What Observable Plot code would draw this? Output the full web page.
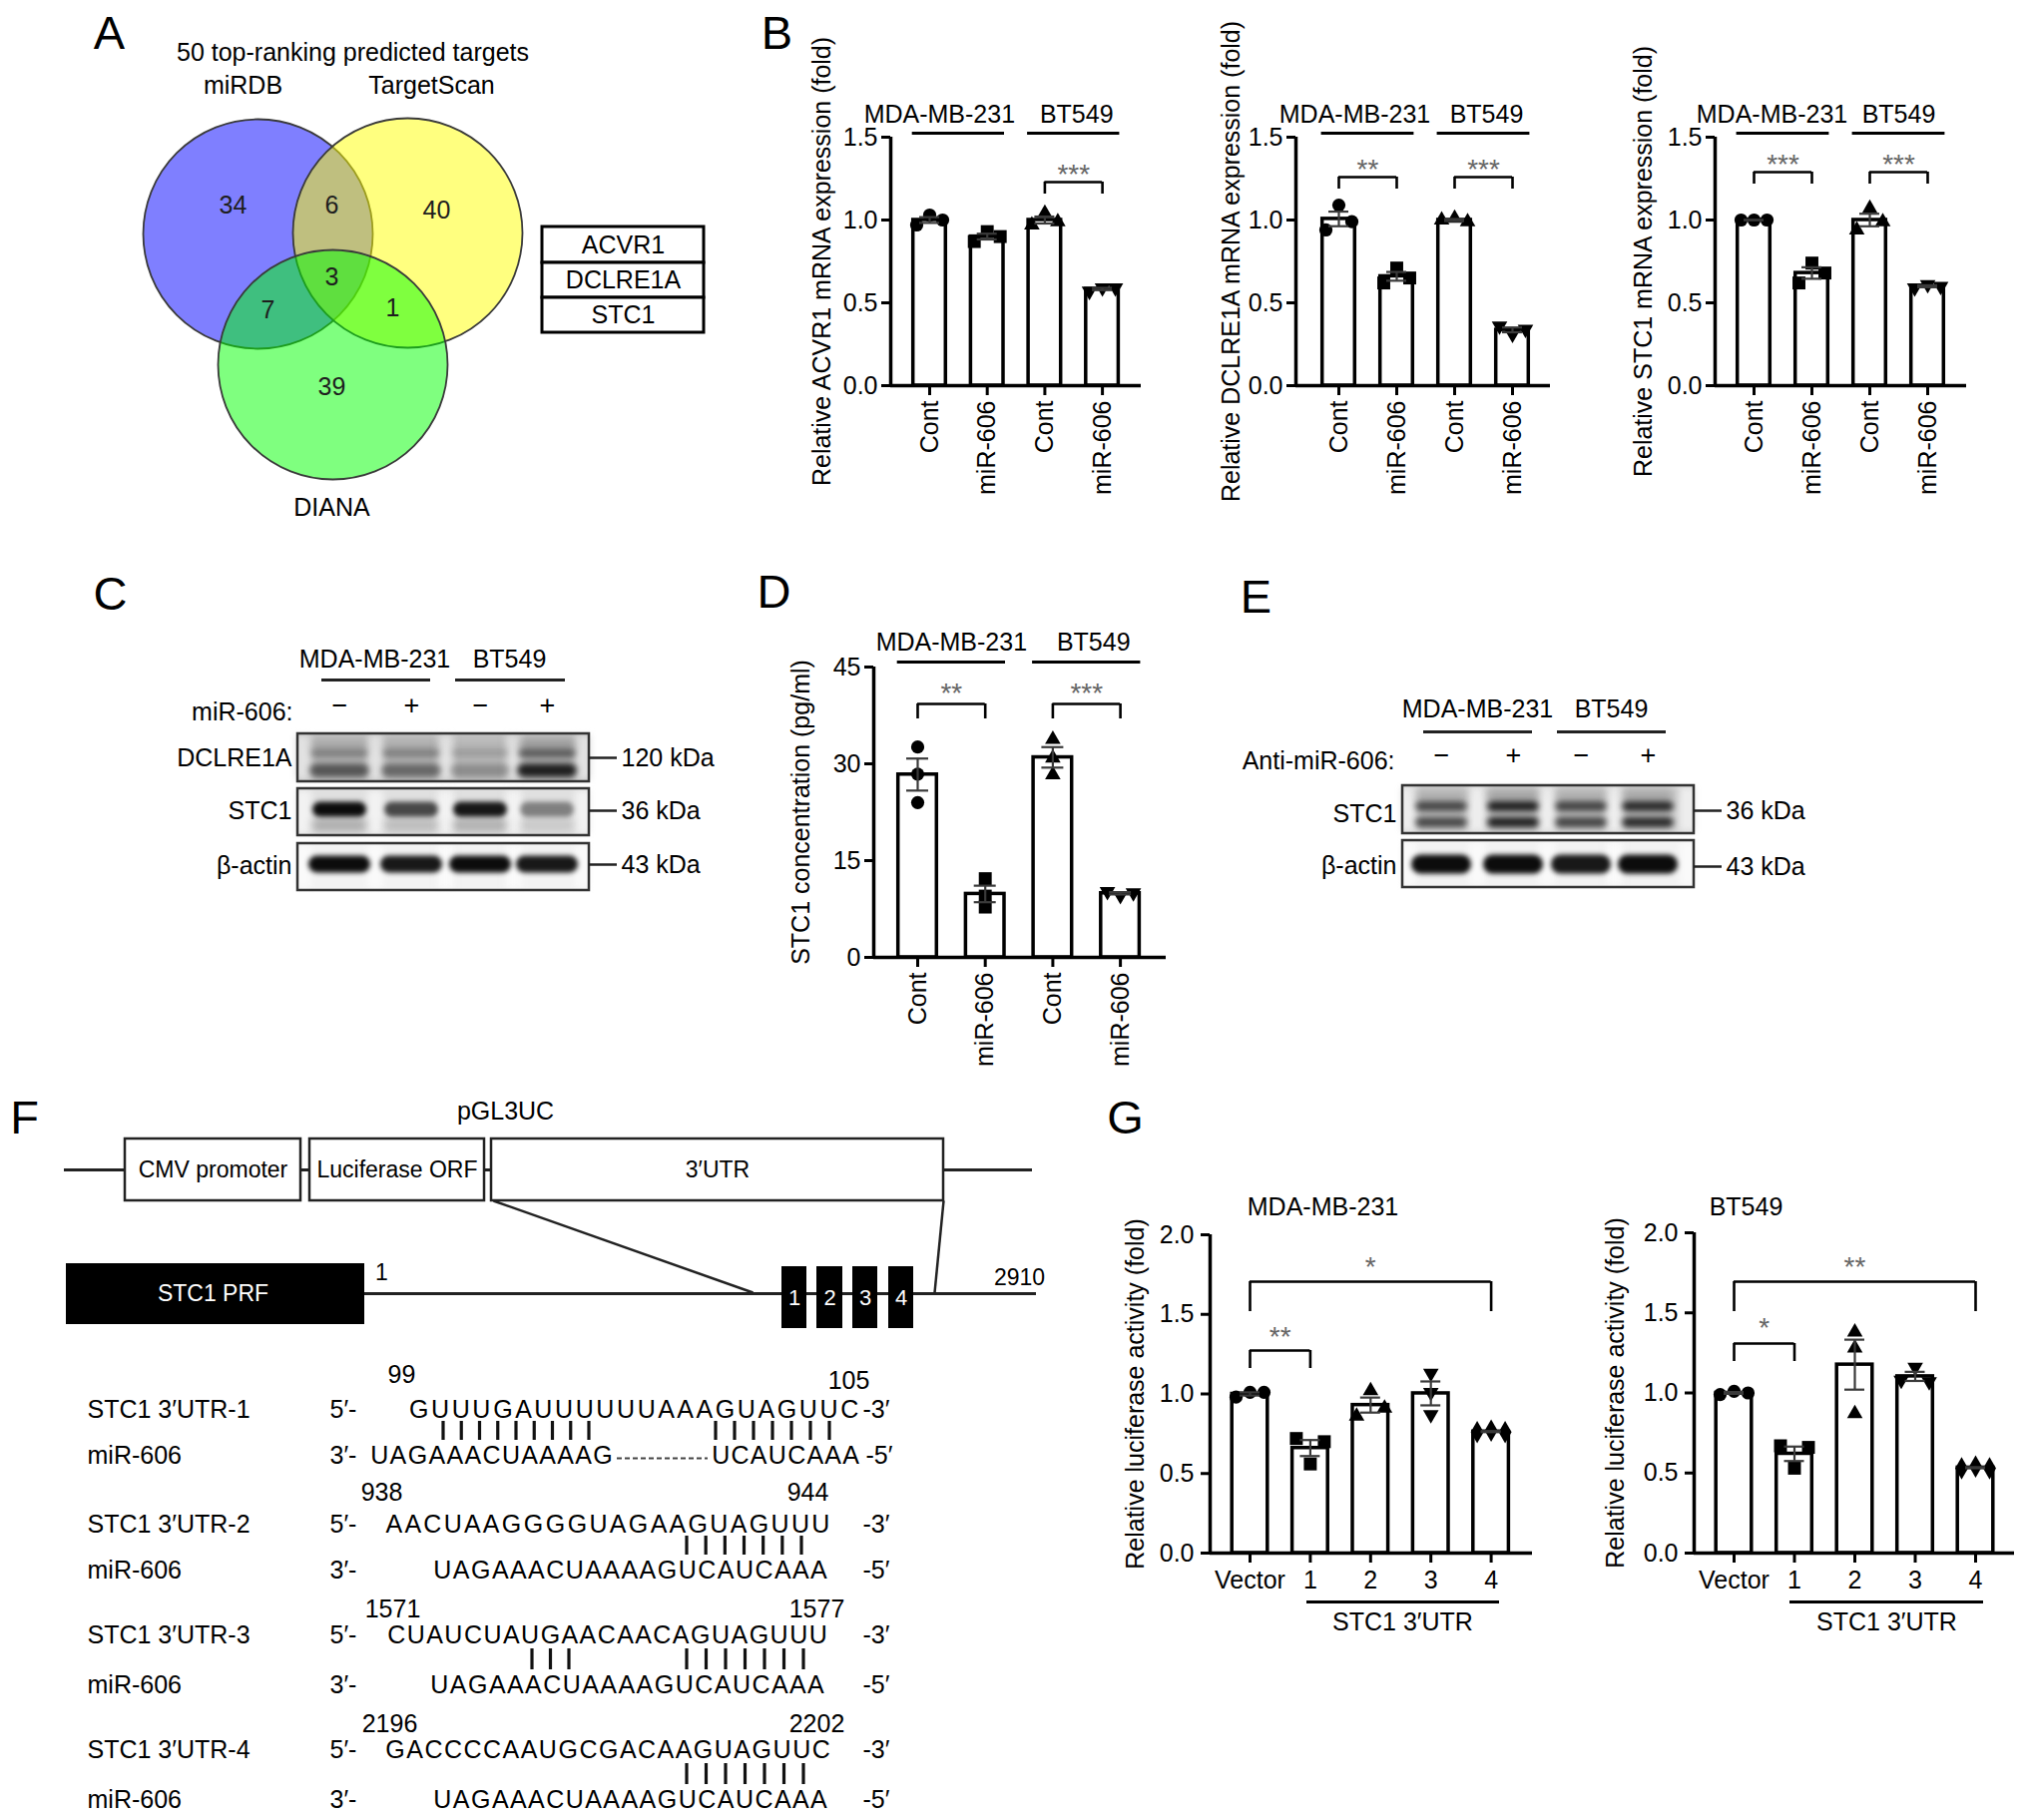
<!DOCTYPE html>
<html><head><meta charset="utf-8">
<script src="https://cdn.jsdelivr.net/npm/d3@7"></script>
<script src="https://cdn.jsdelivr.net/npm/@observablehq/plot@0.6"></script>
<style>
html,body{margin:0;padding:0;background:#fff;overflow:hidden}
#fig{position:relative;width:2032px;height:1824px;background:#fff;color:#000;font-family:"Liberation Sans",Arial,Helvetica,sans-serif}
#fig svg{position:absolute;left:0;top:0}
</style></head><body><div id="fig"></div>
<script>
// ======================= DATA =======================
// Panel A – Venn
const vennSets = ["miRDB", "TargetScan", "DIANA"];
const vennColors = ["#0000ff", "#ffff00", "#00ff00"];
const vennTitle = "50 top-ranking predicted targets";
// regions: miRDB only, miRDB∩TS, TS only, all three, miRDB∩DIANA, TS∩DIANA, DIANA only
const vennCounts = [34, 6, 40, 3, 7, 1, 39];
const commonTargets = ["ACVR1", "DCLRE1A", "STC1"];

// Panel B – qPCR (replicates per group)
const cellLines = ["MDA-MB-231", "BT549"];
const bCats = ["Cont", "miR-606", "Cont", "miR-606"];
const bShapes = ["circle", "square", "triangle", "invtri"];
const acvr1 = [[0.97, 1.03, 1.00], [0.87, 0.93, 0.90], [0.97, 1.04, 0.99], [0.57, 0.59, 0.59]];
const dclre1a = [[0.94, 1.09, 0.99], [0.62, 0.71, 0.65], [1.00, 1.01, 0.99], [0.36, 0.31, 0.34]];
const stc1 = [[1.00, 1.00, 1.00], [0.62, 0.74, 0.68], [0.94, 1.07, 0.99], [0.59, 0.61, 0.60]];
const bTitles = ["Relative ACVR1 mRNA expression (fold)", "Relative DCLRE1A mRNA expression (fold)", "Relative STC1 mRNA expression (fold)"];
const bSig = [[[2, 3, "***"]], [[0, 1, "**"], [2, 3, "***"]], [[0, 1, "***"], [2, 3, "***"]]];

// Panel C – western blot (band intensity 0..1 per lane)
const lanesSign = ["−", "+", "−", "+"];
const blotC = {
  label: "miR-606:",
  rows: ["DCLRE1A", "STC1", "β-actin"],
  sizes: ["120 kDa", "36 kDa", "43 kDa"],
  dclreUpper: [0.35, 0.35, 0.20, 0.55],
  dclreLower: [0.60, 0.50, 0.30, 0.90],
  stc1: [1.00, 0.72, 0.95, 0.45],
  actin: [1.00, 0.95, 1.00, 0.95]
};

// Panel D – ELISA
const dValues = [[32.6, 28.4, 24.0], [12.2, 9.5, 7.8], [33.8, 30.9, 28.3], [10.2, 9.6, 10.0]];
const dTitle = "STC1 concentration (pg/ml)";
const dSig = [[0, 1, "**"], [2, 3, "***"]];

// Panel E – western blot
const blotE = {
  label: "Anti-miR-606:",
  rows: ["STC1", "β-actin"],
  sizes: ["36 kDa", "43 kDa"],
  stc1: [0.70, 0.90, 0.72, 0.85],
  actin: [1.00, 1.00, 0.95, 1.00]
};

// Panel F – construct and binding sites
const vectorParts = ["CMV promoter", "Luciferase ORF", "3′UTR"];
const vectorName = "pGL3UC";
const prfName = "STC1 PRF";
const utrBounds = ["1", "2910"];
const siteNames = ["1", "2", "3", "4"];
const utrNames = ["STC1 3′UTR-1", "STC1 3′UTR-2", "STC1 3′UTR-3", "STC1 3′UTR-4"];
const utrSeqs = ["GUUUGAUUUUUUAAAGUAGUUC", "AACUAAGGGGUAGAAGUAGUUU", "CUAUCUAUGAACAACAGUAGUUU", "GACCCCAAUGCGACAAGUAGUUC"];
const utrStart = ["99", "938", "1571", "2196"];
const utrEnd = ["105", "944", "1577", "2202"];
const mirName = "miR-606";
const mirSeq = "UAGAAACUAAAAGUCAUCAAA";
const pairBars = [[9, 7], [7], [3, 7], [7]];

// Panel G – luciferase
const gCats = ["Vector", "1", "2", "3", "4"];
const gShapes = ["circle", "square", "triangle", "invtri", "diamond"];
const gMDA = [[0.98, 1.01, 1.01], [0.72, 0.56, 0.70], [0.86, 1.02, 0.91], [1.13, 1.01, 0.87], [0.76, 0.77, 0.76]];
const gBT = [[0.99, 1.01, 1.00], [0.67, 0.53, 0.66], [1.38, 1.28, 0.87], [1.08, 1.16, 1.07], [0.53, 0.54, 0.53]];
const gTitle = "Relative luciferase activity (fold)";
const gSub = "STC1 3′UTR";
const gSigMDA = [[0, 4, "*"], [0, 1, "**"]];
const gSigBT = [[0, 4, "**"], [0, 1, "*"]];

// ======================= SETUP =======================
const W = 2032, H = 1824;
const FONT = '"Liberation Sans", Arial, Helvetica, sans-serif';
const FS = 25;
const fig = document.getElementById("fig");
const STYLE = {background: "transparent", overflow: "visible", fontFamily: FONT, fontSize: FS + "px", color: "#000"};

const INV_TRI = {draw(context, size) {
  const s3 = Math.sqrt(3), y = -Math.sqrt(size / (s3 * 3));
  context.moveTo(0, -y * 2); context.lineTo(-s3 * y, y); context.lineTo(s3 * y, y); context.closePath();
}};
const SYM = {circle: d3.symbolCircle, square: d3.symbolSquare, triangle: d3.symbolTriangle, invtri: INV_TRI, diamond: d3.symbolDiamond};
const SYM_R = {circle: 6.6, square: 7.3, triangle: 5.8, invtri: 5.8, diamond: 6.8};

// ======================= BAR CHARTS =======================
function barChart(o) {
  const n = o.cats.length;
  const ymax = o.yticks[o.yticks.length - 1];
  const ppu = (o.zeroY - o.topY) / ymax;
  const toI = px => (px - o.c0) / o.step;
  const toV = py => (o.zeroY - py) / ppu;
  const d0 = toI(o.axisX), d1 = toI(o.rightX);
  const bars = o.values.map((vals, i) => {
    const m = d3.mean(vals), s = d3.deviation(vals) / Math.sqrt(vals.length);
    return {i, mean: m, lo: m - s, hi: m + s};
  });
  const bw = o.barHalf / o.step, cap = o.capHalf / o.step;
  const marks = [];
  marks.push(Plot.rect(bars, {x1: d => d.i - bw, x2: d => d.i + bw, y1: () => 0, y2: "mean", fill: "white", stroke: "#000", strokeWidth: 3.5}));
  o.values.forEach((vals, i) => {
    const close = d3.pairs(d3.sort(vals)).some(([a, b]) => (b - a) * ppu < 10);
    const pts = vals.map((v, r) => ({x: i + (close ? (r - (vals.length - 1) / 2) * o.jitter / o.step : 0), v}));
    const s = o.shapes[i];
    marks.push(Plot.dot(pts, {x: "x", y: "v", symbol: SYM[s], r: SYM_R[s], fill: "#000", stroke: "none"}));
  });
  const eb = {stroke: "#3a3a3a", strokeWidth: 2.2};
  marks.push(Plot.ruleX(bars, {x: "i", y1: "lo", y2: "hi", ...eb}));
  marks.push(Plot.ruleY(bars, {y: "hi", x1: d => d.i - cap, x2: d => d.i + cap, ...eb}));
  marks.push(Plot.ruleY(bars, {y: "lo", x1: d => d.i - cap, x2: d => d.i + cap, ...eb}));
  marks.push(Plot.ruleX([d0], {y1: () => 0, y2: () => ymax, stroke: "#000", strokeWidth: 3.5}));
  marks.push(Plot.ruleY([0], {x1: () => d0, x2: () => d1, stroke: "#000", strokeWidth: 3.5}));
  marks.push(Plot.axisY({ticks: o.yticks, tickFormat: o.yfmt, tickSize: 9, tickPadding: o.yPad, fontSize: FS, strokeWidth: 3, label: null}));
  marks.push(Plot.axisX({ticks: d3.range(n), tickFormat: i => o.cats[i], tickSize: o.xTick, tickPadding: o.xPad, tickRotate: o.rotate ? -90 : 0, fontSize: FS, strokeWidth: 3, label: null}));
  marks.push(Plot.text([o.title], {text: d => d, frameAnchor: "left", textAnchor: "middle", rotate: -90, dx: o.titleX - o.axisX, fontSize: FS}));
  if (o.groups) {
    o.groups.forEach((g, k) => {
      marks.push(Plot.text([g], {x: d => (d.from + d.to) / 2, y: () => ymax, dy: o.groupY - o.topY, dx: o.groupDx[k], text: "name", fontSize: FS}));
    });
    marks.push(Plot.ruleY(o.groups, {y: () => ymax, dy: o.groupLineY - o.topY, x1: d => d.from - 0.3, x2: d => d.to + 0.3, stroke: "#000", strokeWidth: 3}));
  }
  if (o.head) {
    marks.push(Plot.text([o.head], {text: d => d, x: () => toI(o.headX), y: () => toV(o.headY), fontSize: FS}));
  }
  if (o.sub) {
    marks.push(Plot.ruleY([0], {x1: () => toI(o.subLine[0]), x2: () => toI(o.subLine[1]), dy: o.subLineY - o.zeroY, stroke: "#000", strokeWidth: 3}));
    marks.push(Plot.text([o.sub], {text: d => d, x: () => toI(o.subX), y: () => 0, dy: o.subY - o.zeroY, fontSize: FS}));
  }
  o.sig.forEach(([a, b, label], k) => {
    const L = o.sigLay[k];
    const yv = toV(L.y), yl = toV(L.y + L.leg);
    marks.push(Plot.ruleY([0], {y: () => yv, x1: () => a, x2: () => b, stroke: "#000", strokeWidth: 2.6}));
    marks.push(Plot.ruleX([a, b], {y1: () => yv, y2: () => yl, stroke: "#000", strokeWidth: 2.6}));
    marks.push(Plot.text([label], {text: d => d, x: () => (a + b) / 2, y: () => yv, dy: L.ly - L.y + 8, fontSize: 28, fill: "#666"}));
  });
  const svg = Plot.plot({
    width: W, height: H,
    marginLeft: o.axisX, marginRight: W - o.rightX, marginTop: o.topY, marginBottom: H - o.zeroY,
    x: {domain: [d0, d1]}, y: {domain: [0, ymax]},
    style: STYLE, marks
  });
  fig.appendChild(svg);
}

const fmt1 = d3.format(".1f");
const bGroups = [{name: cellLines[0], from: 0, to: 1}, {name: cellLines[1], from: 2, to: 3}];
const bBase = {cats: bCats, shapes: bShapes, topY: 137, zeroY: 386, step: 58, yticks: [0, 0.5, 1, 1.5], yfmt: fmt1, yPad: 4, xPad: 5, xTick: 10, rotate: true,
  barHalf: 16.3, capHalf: 10, jitter: 13, groups: bGroups, groupY: 114, groupLineY: 133};
barChart({...bBase, values: acvr1, title: bTitles[0], axisX: 892, rightX: 1143, c0: 931, step: 57.7, titleX: 823, groupDx: [-19, 3],
  sig: bSig[0], sigLay: [{y: 182, leg: 12, ly: 167}]});
barChart({...bBase, values: dclre1a, title: bTitles[1], axisX: 1298, rightX: 1553, c0: 1341, titleX: 1233, groupDx: [-13, 3],
  sig: bSig[1], sigLay: [{y: 177, leg: 12, ly: 162}, {y: 177, leg: 12, ly: 162}]});
barChart({...bBase, values: stc1, title: bTitles[2], axisX: 1718, rightX: 1970, c0: 1757, titleX: 1646, groupDx: [-11, 0],
  sig: bSig[2], sigLay: [{y: 172, leg: 12, ly: 157}, {y: 172, leg: 12, ly: 157}]});

barChart({cats: bCats, shapes: bShapes, values: dValues, title: dTitle, axisX: 875, rightX: 1168, topY: 668, zeroY: 959, c0: 919, step: 67.7,
  yticks: [0, 15, 30, 45], yfmt: d3.format("d"), yPad: 4, xPad: 5, xTick: 10, rotate: true, titleX: 802,
  barHalf: 19.3, capHalf: 11, jitter: 13, groups: bGroups, groupY: 643, groupLineY: 663, groupDx: [0, 7],
  sig: dSig, sigLay: [{y: 705, leg: 15, ly: 687}, {y: 705, leg: 15, ly: 687}]});

const gBase = {cats: gCats, shapes: gShapes, zeroY: 1556, yticks: [0, 0.5, 1, 1.5, 2], yfmt: fmt1, yPad: 7, xPad: 8, xTick: 10, rotate: false,
  barHalf: 17.8, capHalf: 10, jitter: 14, title: gTitle, sub: gSub, subLineY: 1605, subY: 1625, headY: 1209};
barChart({...gBase, values: gMDA, axisX: 1212, rightX: 1535, topY: 1237, c0: 1252, step: 60.4, titleX: 1137,
  head: cellLines[0], headX: 1325, subLine: [1309, 1502], subX: 1405,
  sig: gSigMDA, sigLay: [{y: 1284, leg: 30, ly: 1262}, {y: 1353, leg: 18, ly: 1332}]});
barChart({...gBase, values: gBT, axisX: 1697, rightX: 2018, topY: 1235, c0: 1737, step: 60.5, titleX: 1618,
  head: cellLines[1], headX: 1749, subLine: [1793, 1987], subX: 1890,
  sig: gSigBT, sigLay: [{y: 1284, leg: 30, ly: 1262}, {y: 1346, leg: 18, ly: 1323}]});

// ======================= DIAGRAMS (identity layout) =======================
const M = [];
const txt = (data, o = {}) => Plot.text(data, {x: "x", y: "y", text: "t", fontSize: FS, fill: "#000", ...o});

// panel letters
const letterPos = [[109, 33], [778, 33], [110, 595], [775, 593], [1258, 598], [24, 1120], [1127, 1120]];
M.push(txt(["A", "B", "C", "D", "E", "F", "G"].map((t, i) => ({t, x: letterPos[i][0], y: letterPos[i][1]})), {fontSize: 47}));

// ---- A: Venn ----
const vennCenters = [[258, 234], [408, 233], [333, 365]];
M.push(Plot.dot(vennSets.map((s, i) => ({s, c: vennColors[i], x: vennCenters[i][0], y: vennCenters[i][1]})),
  {x: "x", y: "y", r: 115, fill: "c", fillOpacity: 0.5, stroke: "#3a3a3a", strokeWidth: 1.8}));
const countPos = [[233, 205], [332, 205], [437, 210], [332, 277], [268, 310], [393, 308], [332, 387]];
M.push(txt(vennCounts.map((v, i) => ({t: String(v), x: countPos[i][0], y: countPos[i][1]})), {fill: "#1e1e1e"}));
const setLabelPos = [[243, 85], [432, 85], [332, 508]];
M.push(txt(vennSets.map((t, i) => ({t, x: setLabelPos[i][0], y: setLabelPos[i][1]}))));
M.push(txt([{t: vennTitle, x: 353, y: 52}]));
const tblY = [227, 263, 298, 333];
M.push(Plot.rect(commonTargets.map((t, i) => ({x1: 543, x2: 705, y1: tblY[i], y2: tblY[i + 1]})),
  {x1: "x1", x2: "x2", y1: "y1", y2: "y2", fill: "white", stroke: "#000", strokeWidth: 3}));
M.push(txt(commonTargets.map((t, i) => ({t, x: 624, y: (tblY[i] + tblY[i + 1]) / 2}))));

// ---- Blots ----
function blot(cfg) {
  const [bx1, bx2] = cfg.boxX;
  M.push(txt(cellLines.map((t, i) => ({t, x: cfg.headX[i], y: cfg.headY}))));
  M.push(Plot.ruleY(cfg.headLines, {y: () => cfg.headLineY, x1: d => d[0], x2: d => d[1], stroke: "#222", strokeWidth: 3}));
  M.push(txt([{t: cfg.label, x: cfg.labelX, y: cfg.labelY}], {textAnchor: "end"}));
  M.push(txt(lanesSign.map((t, i) => ({t, x: cfg.lanes[i], y: cfg.signY})), {fontSize: 27}));
  cfg.rowY.forEach(([y1, y2], r) => {
    M.push(Plot.rect([0], {x1: () => bx1, x2: () => bx2, y1: () => y1, y2: () => y2, fill: cfg.bg[r]}));
    const gaps = [bx1 + 6, ...d3.pairs(cfg.lanes).map(([a, b]) => (a + b) / 2), bx2 - 6];
    M.push(Plot.rect(gaps, {x1: d => d - 8, x2: d => d + 8, y1: () => y1 + 2, y2: () => y2 - 2, fill: cfg.gap[r], imageFilter: "blur(3px)"}));
    cfg.bands[r].forEach(b => {
      M.push(Plot.rect(b.v.map((v, i) => ({v, x: cfg.lanes[i]})), {
        x1: d => d.x - b.w / 2, x2: d => d.x + b.w / 2, y1: () => b.y - b.h / 2, y2: () => b.y + b.h / 2,
        rx: b.h / 2, fill: d => `rgba(12,12,12,${d.v})`, imageFilter: `blur(${b.blur}px)`}));
    });
    M.push(Plot.rect([0], {x1: () => bx1, x2: () => bx2, y1: () => y1, y2: () => y2, fill: "none", stroke: "#333", strokeWidth: 2.5}));
    M.push(txt([{t: cfg.rows[r], x: bx1 - 6, y: cfg.rowLabelY[r]}], {textAnchor: "end"}));
    M.push(Plot.ruleY([0], {y: () => cfg.sizeY[r], x1: () => bx2, x2: () => bx2 + 28, stroke: "#222", strokeWidth: 2.5}));
    M.push(txt([{t: cfg.sizes[r], x: bx2 + 32, y: cfg.sizeY[r]}], {textAnchor: "start"}));
  });
}
blot({
  boxX: [298, 590], lanes: [340, 412, 481, 548], headX: [375, 510], headY: 660, headLines: [[322, 431], [456, 566]], headLineY: 681,
  label: blotC.label, labelX: 293, labelY: 713, signY: 707,
  rows: blotC.rows, sizes: blotC.sizes,
  rowY: [[735, 783], [790, 837], [845, 892]], rowLabelY: [759, 812, 867], sizeY: [759, 812, 866],
  bg: ["#c4c4c4", "#e0e0e0", "#f3f3f3"], gap: ["#e2e2e2", "#f2f2f2", "#fafafa"],
  bands: [
    [{v: blotC.dclreUpper, y: 755, h: 10, w: 58, blur: 3}, {v: blotC.dclreLower, y: 772, h: 14, w: 60, blur: 3}, {v: blotC.dclreLower.map(v => v * 0.25), y: 745, h: 10, w: 60, blur: 4}],
    [{v: blotC.stc1, y: 811, h: 15, w: 54, blur: 2.5}, {v: blotC.stc1.map(v => v * 0.25), y: 827, h: 12, w: 56, blur: 4}],
    [{v: blotC.actin, y: 866, h: 17, w: 62, blur: 2.5}]
  ]
});
blot({
  boxX: [1405, 1697], lanes: [1444, 1516, 1584, 1651], headX: [1480, 1614], headY: 710, headLines: [[1426, 1535], [1560, 1669]], headLineY: 733,
  label: blotE.label, labelX: 1397, labelY: 762, signY: 757,
  rows: blotE.rows, sizes: blotE.sizes,
  rowY: [[787, 835], [842, 889]], rowLabelY: [815, 867], sizeY: [812, 868],
  bg: ["#d6d6d6", "#f2f2f2"], gap: ["#ededed", "#fafafa"],
  bands: [
    [{v: blotE.stc1, y: 808, h: 11, w: 52, blur: 3}, {v: blotE.stc1, y: 824, h: 11, w: 52, blur: 3}, {v: blotE.stc1.map(v => v * 0.3), y: 796, h: 10, w: 54, blur: 4}],
    [{v: blotE.actin, y: 866, h: 19, w: 60, blur: 2.5}]
  ]
});

// ---- F: construct schematic ----
M.push(txt([{t: vectorName, x: 506, y: 1113}]));
M.push(Plot.ruleY([0], {y: () => 1172, x1: () => 64, x2: () => 1034, stroke: "#222", strokeWidth: 3}));
const vecBoxes = [[125, 301], [310, 485], [492, 945]];
M.push(Plot.rect(vecBoxes, {x1: d => d[0], x2: d => d[1], y1: () => 1141, y2: () => 1203, fill: "white", stroke: "#222", strokeWidth: 2.5}));
M.push(txt(vectorParts.map((t, i) => ({t, x: (vecBoxes[i][0] + vecBoxes[i][1]) / 2, y: 1172})), {fontSize: 23}));
M.push(Plot.ruleY([0], {y: () => 1296, x1: () => 365, x2: () => 1038, stroke: "#222", strokeWidth: 3}));
M.push(Plot.rect([0], {x1: () => 66, x2: () => 365, y1: () => 1266, y2: () => 1327, fill: "#000"}));
M.push(txt([{t: prfName, x: 213, y: 1296}], {fill: "white", fontSize: 23}));
M.push(txt([{t: utrBounds[0], x: 382, y: 1275}], {fontSize: 23}));
M.push(txt([{t: utrBounds[1], x: 1021, y: 1280}], {fontSize: 23}));
M.push(Plot.link([[494, 1203, 754, 1295], [945, 1203, 936, 1295]], {x1: d => d[0], y1: d => d[1], x2: d => d[2], y2: d => d[3], stroke: "#222", strokeWidth: 2.5}));
const sitesX = [[783, 808], [818, 844], [854, 879], [890, 915]];
M.push(Plot.rect(sitesX, {x1: d => d[0], x2: d => d[1], y1: () => 1269, y2: () => 1331, fill: "#000"}));
M.push(txt(siteNames.map((t, i) => ({t, x: (sitesX[i][0] + sitesX[i][1]) / 2, y: 1300})), {fill: "white", fontSize: 22}));

// ---- F: sequence alignments ----
const seqLay = [
  {yU: 1412, yM: 1458, utr: [408, 861], mir: [[370, 614], [712, 861]], gap: [618, 709], bars: [[442, 591], [715, 832]], barY: [1424, 1443], num: [[402, 1377], [850, 1383]], sufM: 867},
  {yU: 1527, yM: 1573, utr: [385, 832], mir: [[433, 829]], bars: [[686, 804]], barY: [1539, 1558], num: [[382, 1495], [809, 1495]], sufM: 864},
  {yU: 1638, yM: 1688, utr: [387, 829], mir: [[430, 826]], bars: [[531, 571], [686, 806]], barY: [1652, 1673], num: [[393, 1612], [818, 1612]], sufM: 864},
  {yU: 1753, yM: 1803, utr: [385, 832], mir: [[433, 829]], bars: [[686, 806]], barY: [1767, 1788], num: [[390, 1727], [818, 1727]], sufM: 864}
];
const mctx = document.createElement("canvas").getContext("2d");
mctx.font = `${FS}px ${FONT}`;
function charsAt(s, [l, r], y) {
  const w = Array.from(s, c => mctx.measureText(c).width);
  const k = (r - l) / d3.sum(w);
  let acc = l;
  return Array.from(s, (t, i) => { const x = acc + w[i] * k / 2; acc += w[i] * k; return {t, x, y}; });
}
seqLay.forEach((L, k) => {
  const rowsTxt = [
    {t: utrNames[k], x: 87, y: L.yU}, {t: mirName, x: 87, y: L.yM},
    {t: "5′-", x: 330, y: L.yU}, {t: "3′-", x: 330, y: L.yM},
    {t: "-3′", x: 864, y: L.yU}, {t: "-5′", x: L.sufM, y: L.yM}
  ];
  M.push(txt(rowsTxt, {textAnchor: "start"}));
  M.push(txt([{t: utrStart[k], x: L.num[0][0], y: L.num[0][1]}, {t: utrEnd[k], x: L.num[1][0], y: L.num[1][1]}]));
  M.push(txt(charsAt(utrSeqs[k], L.utr, L.yU)));
  if (L.mir.length === 2) {
    M.push(txt([...charsAt(mirSeq.slice(0, 13), L.mir[0], L.yM), ...charsAt(mirSeq.slice(13), L.mir[1], L.yM)]));
    M.push(Plot.ruleY([0], {y: () => L.yM + 3, x1: () => L.gap[0], x2: () => L.gap[1], stroke: "#444", strokeWidth: 1.8, strokeDasharray: "5,3"}));
  } else {
    M.push(txt(charsAt(mirSeq, L.mir[0], L.yM)));
  }
  const bx = [];
  pairBars[k].forEach((n, g) => {
    const [a, b] = L.bars[g];
    for (let i = 0; i < n; i++) bx.push(a + 1.5 + i * (b - a - 3) / (n - 1));
  });
  M.push(Plot.ruleX(bx, {y1: () => L.barY[0], y2: () => L.barY[1], stroke: "#111", strokeWidth: 3.2}));
});

fig.appendChild(Plot.plot({
  width: W, height: H, margin: 0,
  x: {type: "identity", axis: null}, y: {type: "identity", axis: null}, color: {type: "identity"},
  style: STYLE, marks: M
}));
</script></body></html>
